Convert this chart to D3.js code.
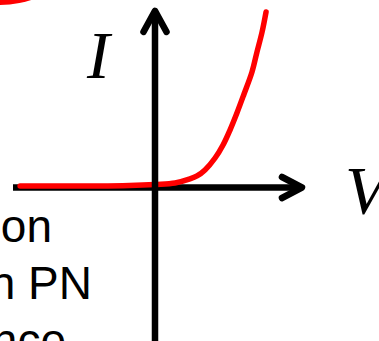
<!DOCTYPE html>
<html><head><meta charset="utf-8">
<script src="https://cdn.jsdelivr.net/npm/d3@7"></script>
<style>html,body{margin:0;padding:0;background:#fff;overflow:hidden}</style>
</head><body>
<svg id="c" width="379" height="341"></svg>
<script>
// Data (voltage V vs current I, arbitrary units)
const voltage = [-0.95, -0.67, -0.39, -0.18, 0.0, 0.141, 0.246, 0.296, 0.352, 0.423, 0.479, 0.528, 0.577, 0.627, 0.683, 0.718, 0.754, 0.782];
const current = [0.0, 0.0, 0.0, 0.003, 0.009, 0.017, 0.040, 0.057, 0.091, 0.159, 0.233, 0.318, 0.415, 0.523, 0.648, 0.761, 0.875, 0.989];
const vAxisExtent = [-1.0, 1.035];
const iAxisExtent = [-1.1, 0.995];
const axisLabels = ["V", "I"];
const sideText = ["on", "n PN", "ance"];

const svg = d3.select("#c");
const x = d3.scaleLinear().domain([-1, 1]).range([13, 297]);
const y = d3.scaleLinear().domain([-1, 1]).range([362, 10]);

// partial red circle in top-left corner
svg.append("circle").attr("cx", 0).attr("cy", -95).attr("r", 100).attr("fill", "#ff0000");

const ax = { stroke: "#000", "stroke-width": 6.5, fill: "none", "stroke-linecap": "round", "stroke-linejoin": "round" };
function styl(sel, o) { for (const k in o) sel.attr(k, o[k]); return sel; }

// horizontal axis
const y0 = y(0) + 1.5;
styl(svg.append("line"), ax).attr("stroke-linecap", "butt")
  .attr("x1", x(vAxisExtent[0])).attr("x2", x(vAxisExtent[1])).attr("y1", y0).attr("y2", y0);
const hx = x(vAxisExtent[1]);
styl(svg.append("polyline"), ax).attr("points", `${hx-20},${y0-10.5} ${hx},${y0} ${hx-20},${y0+10.5}`);

// IV curve
const line = d3.line().x((d, i) => x(voltage[i])).y((d, i) => y(current[i])).curve(d3.curveCatmullRom.alpha(0.5));
svg.append("path").datum(voltage).attr("d", line)
  .attr("fill", "none").attr("stroke", "#ff0000").attr("stroke-width", 5.5).attr("stroke-linecap", "round");

// vertical axis
const x0 = x(0);
styl(svg.append("line"), ax).attr("stroke-linecap", "butt")
  .attr("x1", x0).attr("x2", x0).attr("y1", y(iAxisExtent[0])).attr("y2", y(iAxisExtent[1]));
const vy = y(iAxisExtent[1]);
styl(svg.append("polyline"), ax).attr("points", `${x0-11.5},${vy+21} ${x0},${vy} ${x0+11.5},${vy+21}`);

// axis labels
svg.append("text").text(axisLabels[0]).attr("x", 345).attr("y", 213)
  .attr("font-family", "Liberation Serif").attr("font-style", "italic").attr("font-size", 68).attr("fill", "#000");
svg.append("text").text(axisLabels[1]).attr("x", 87).attr("y", 78)
  .attr("font-family", "Liberation Serif").attr("font-style", "italic").attr("font-size", 68).attr("fill", "#000");

// cut-off side text
const ends = [52, 92, 66];
const bases = [242, 299, 356];
sideText.forEach((t, i) => {
  svg.append("text").text(t).attr("x", ends[i]).attr("y", bases[i]).attr("text-anchor", "end")
    .attr("font-family", "Liberation Sans").attr("font-size", 46).attr("fill", "#000");
});
</script>
</body></html>
